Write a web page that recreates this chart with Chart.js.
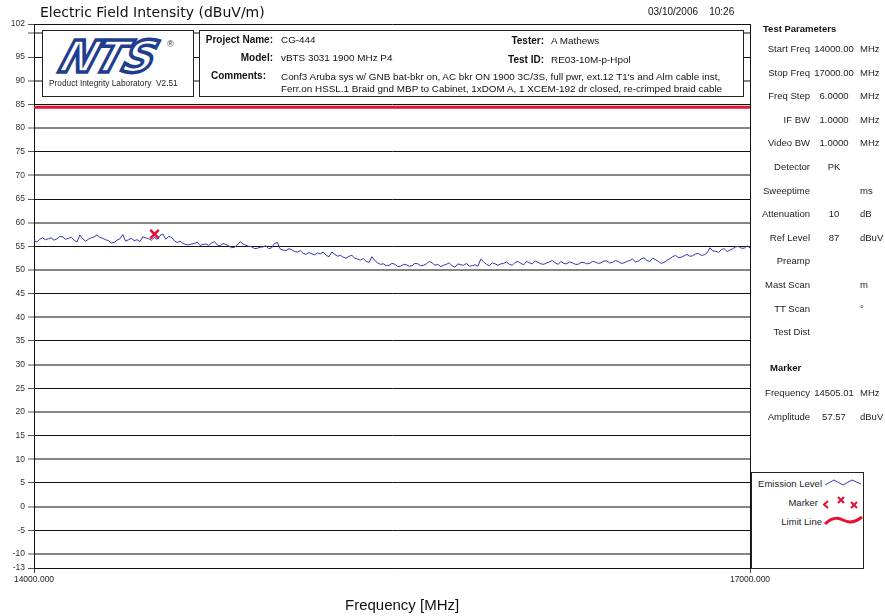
<!DOCTYPE html>
<html>
<head>
<meta charset="utf-8">
<script src="https://cdn.jsdelivr.net/npm/chart.js@4/dist/chart.umd.min.js"></script>
<style>
  html, body { margin: 0; padding: 0; background: #fff; }
  #wrap { position: relative; width: 885px; height: 616px; overflow: hidden; font-family: "Liberation Sans", Arial, sans-serif; color: #111; }
  #c { position: absolute; left: 0; top: 0; }
  .abs { position: absolute; white-space: nowrap; line-height: 12px; }
  .box { position: absolute; background: #fff; border: 1px solid #222; box-sizing: border-box; }
  .lbl { font-weight: bold; font-size: 10px; text-align: right; }
  .val { font-size: 9.9px; }
  .pl { font-size: 9.5px; text-align: right; color: #222; }
  .pv { font-size: 9.5px; text-align: center; color: #222; }
  .pu { font-size: 9.5px; color: #222; }
</style>
</head>
<body>
<div id="wrap">
  <canvas id="c" width="885" height="616"></canvas>

  <div class="abs" style="left:40px;top:4px;font-family:'DejaVu Sans',sans-serif;font-size:14px;line-height:17px;">Electric Field Intensity (dBuV/m)</div>
  <div class="abs" style="left:648px;top:6px;font-size:10px;">03/10/2006&nbsp;&nbsp;&nbsp;&nbsp;10:26</div>

  <!-- lab logo box -->
  <div class="box" style="left:42px;top:30px;width:152px;height:67px;">
    <div class="abs" style="left:19px;top:4px;font-family:'DejaVu Sans',sans-serif;font-weight:bold;font-style:italic;font-size:44px;line-height:44px;letter-spacing:-2px;color:#fff;-webkit-text-stroke:3.5px #1f3e8e;transform:skewX(-18deg);">NTS</div>
    <div class="abs" style="left:124px;top:7px;font-size:9px;color:#333;">®</div>
    <div class="abs" style="left:6px;top:46px;font-size:8.3px;color:#222;">Product Integrity Laboratory&nbsp;&nbsp;V2.51</div>
  </div>

  <!-- project information box -->
  <div class="box" style="left:199px;top:30px;width:545px;height:67px;"></div>
  <div id="info"></div>

  <!-- test parameter panel -->
  <div id="panel"></div>

  <!-- legend -->
  <div class="box" style="left:751px;top:472px;width:113px;height:97px;">
    <div class="abs pl" style="left:0;width:70px;top:5px;">Emission Level</div>
    <svg style="position:absolute;left:73px;top:5px" width="38" height="10"><polyline points="0,7 9,2 18,7 27,2 36,6" fill="none" stroke="#3a3ab8" stroke-width="1"/></svg>
    <div class="abs pl" style="left:0;width:66px;top:24px;">Marker</div>
    <svg style="position:absolute;left:70px;top:22px" width="40" height="16">
      <path d="M6,6 L2,9.5 L6,13" fill="none" stroke="#e01030" stroke-width="2"/>
      <path d="M16,2 L22,8 M22,2 L16,8" fill="none" stroke="#e01030" stroke-width="2"/>
      <path d="M29,7 L35,13 M35,7 L29,13" fill="none" stroke="#e01030" stroke-width="2"/>
    </svg>
    <div class="abs pl" style="left:0;width:70px;top:43px;">Limit Line</div>
    <svg style="position:absolute;left:72px;top:40px" width="40" height="14"><path d="M1,11 Q10,2 19,7 T38,4" fill="none" stroke="#e8102e" stroke-width="3"/></svg>
  </div>

  <div class="abs" style="left:345px;top:596px;font-size:15px;line-height:17px;">Frequency [MHz]</div>
</div>

<script>
// Sweep range and trace sampling (MHz)
const START_FREQ = 14000;
const STOP_FREQ = 17000;
const TRACE_STEP = 12;

// Peak emission level, dBuV/m, one value per TRACE_STEP from START_FREQ
const emission = [
  56.2, 55.9, 56.5, 56.8, 56.4, 56.6, 56.8, 56.3, 56.6, 57.1,
  57.0, 56.5, 56.7, 56.9, 56.3, 55.9, 57.4, 56.6, 56.1, 56.5,
  56.8, 57.0, 57.4, 56.9, 56.7, 56.4, 56.2, 55.7, 55.8, 56.3,
  56.6, 57.5, 56.1, 56.4, 56.7, 56.2, 56.4, 56.0, 57.0, 56.8,
  56.6, 56.3, 56.9, 56.5, 57.3, 57.6, 56.5, 57.1, 56.9, 56.2,
  55.8, 56.1, 55.6, 55.4, 55.3, 55.5, 55.6, 55.9, 55.2, 55.4,
  55.5, 55.2, 55.7, 56.0, 55.3, 55.1, 55.6, 55.4, 55.1, 54.7,
  54.8, 55.3, 56.0, 55.5, 55.2, 55.0, 54.9, 54.5, 54.6, 54.8,
  54.9, 55.1, 54.5, 54.7, 55.6, 55.8, 54.4, 54.2, 54.1, 54.5,
  54.3, 53.9, 53.8, 54.1, 53.5, 53.3, 53.7, 53.4, 53.2, 53.6,
  53.4, 53.8, 53.1, 52.8, 53.8, 53.3, 52.9, 53.1, 52.7, 52.5,
  52.9, 53.1, 52.5, 52.3, 52.1, 52.4, 51.8, 51.6, 52.8, 52.0,
  51.5, 51.2, 51.3, 50.9, 51.0, 51.4, 51.2, 50.7, 50.8, 51.2,
  51.1, 50.8, 50.9, 51.4, 51.3, 50.9, 51.0, 51.3, 51.8, 51.5,
  51.0, 51.2, 50.7, 51.0, 51.2, 51.5, 50.9, 50.6, 51.3, 51.1,
  51.0, 51.4, 50.8, 50.9, 51.1, 50.8, 52.3, 51.7, 51.2, 50.9,
  51.5, 51.3, 51.0, 51.3, 51.4, 51.7, 51.2, 51.0, 51.6, 51.8,
  51.4, 51.1, 51.8, 51.5, 51.3, 51.9, 51.6, 51.3, 51.2, 51.5,
  51.7, 52.0, 51.5, 51.2, 51.8, 51.4, 51.3, 51.7, 51.5, 51.2,
  51.2, 51.6, 51.6, 51.3, 51.4, 51.8, 51.7, 51.4, 51.5, 51.9,
  51.9, 51.5, 51.6, 52.0, 51.8, 51.4, 51.5, 51.8, 52.0, 52.3,
  51.7, 51.9, 52.3, 52.6, 52.0, 51.8, 52.5, 52.2, 51.8, 51.4,
  51.6, 52.0, 52.4, 52.8, 53.1, 52.6, 52.7, 53.0, 53.3, 52.9,
  53.0, 53.4, 53.5, 53.1, 53.2, 53.6, 54.7, 54.0, 54.0, 53.7,
  54.3, 54.5, 53.9, 54.2, 54.5, 54.9, 55.0, 54.6, 54.6, 55.1,
  54.7
];
const traceFreqs = emission.map((_, i) => START_FREQ + i * TRACE_STEP);

// Limit line
const limitFreqs = [14000, 17000];
const limitLevel = [84.4, 84.4];

// Peak marker
const markerFreq = [14505.01];
const markerAmp = [57.57];

// Axis ticks
const yTicks = [-13, -10, -5, 0, 5, 10, 15, 20, 25, 30, 35, 40, 45, 50, 55, 60, 65, 70, 75, 80, 85, 90, 95, 100, 102];
const xTicks = [14000, 17000];

// Header fields
const infoLeft = [["Project Name:", "CG-444"], ["Model:", "vBTS 3031 1900 MHz P4"]];
const infoRight = [["Tester:", "A Mathews"], ["Test ID:", "RE03-10M-p-Hpol"]];
const commentLines = [
  "Conf3 Aruba sys w/ GNB bat-bkr on, AC bkr ON 1900 3C/3S, full pwr,  ext.12 T1's and Alm cable inst,",
  "Ferr.on HSSL.1 Braid gnd MBP to Cabinet,  1xDOM A, 1 XCEM-192 dr closed, re-crimped braid cable"
];

// Test parameters panel
const paramLabels = ["Start Freq", "Stop Freq", "Freq Step", "IF BW", "Video BW", "Detector", "Sweeptime", "Attenuation", "Ref Level", "Preamp", "Mast Scan", "TT Scan", "Test Dist"];
const paramValues = ["14000.00", "17000.00", "6.0000", "1.0000", "1.0000", "PK", "", "10", "87", "", "", "", ""];
const paramUnits = ["MHz", "MHz", "MHz", "MHz", "MHz", "", "ms", "dB", "dBuV", "", "m", "°", ""];
const markerLabels = ["Frequency", "Amplitude"];
const markerValues = ["14505.01", "57.57"];
const markerUnits = ["MHz", "dBuV"];

function addText(parent, cls, text, style) {
  const d = document.createElement('div');
  d.className = 'abs ' + cls;
  d.textContent = text;
  Object.assign(d.style, style);
  parent.appendChild(d);
  return d;
}

// header fields
const info = document.getElementById('info');
infoLeft.forEach(([k, v], i) => {
  const top = (34 + i * 18) + 'px';
  addText(info, 'lbl', k, { left: '200px', width: '73px', top });
  addText(info, 'val', v, { left: '281px', top });
});
infoRight.forEach(([k, v], i) => {
  const top = (35 + i * 19) + 'px';
  addText(info, 'lbl', k, { left: '470px', width: '74px', top });
  addText(info, 'val', v, { left: '551px', top });
});
addText(info, 'lbl', "Comments:", { left: '200px', width: '66px', top: '70px' });
commentLines.forEach((t, i) => addText(info, 'val', t, { left: '281px', top: (71 + i * 12) + 'px' }));

// parameter panel
const panel = document.getElementById('panel');
addText(panel, 'lbl', "Test Parameters", { left: '763px', top: '23px', textAlign: 'left', fontSize: '9.5px' });
paramLabels.forEach((l, i) => {
  const top = (43 + i * 23.6) + 'px';
  addText(panel, 'pl', l, { left: '740px', width: '70px', top });
  addText(panel, 'pv', paramValues[i], { left: '810px', width: '48px', top });
  addText(panel, 'pu', paramUnits[i], { left: '860px', top });
});
addText(panel, 'lbl', "Marker", { left: '770px', top: '362px', textAlign: 'left', fontSize: '9.5px' });
markerLabels.forEach((l, i) => {
  const top = (387 + i * 23.5) + 'px';
  addText(panel, 'pl', l, { left: '740px', width: '70px', top });
  addText(panel, 'pv', markerValues[i], { left: '810px', width: '48px', top });
  addText(panel, 'pu', markerUnits[i], { left: '860px', top });
});

// chart
const toPts = (xs, ys) => xs.map((x, i) => ({ x, y: ys[i] }));

new Chart(document.getElementById('c'), {
  type: 'scatter',
  data: {
    datasets: [
      {
        label: 'Limit Line',
        data: toPts(limitFreqs, limitLevel),
        showLine: true, borderColor: '#e8102e', borderWidth: 3, pointRadius: 0
      },
      {
        label: 'Emission Level',
        data: toPts(traceFreqs, emission),
        showLine: true, borderColor: '#3434b4', borderWidth: 1, pointRadius: 0, tension: 0
      },
      {
        label: 'Marker',
        data: toPts(markerFreq, markerAmp),
        showLine: false, pointStyle: 'crossRot', pointRadius: 6, pointBorderWidth: 2.5,
        borderColor: '#e01030', backgroundColor: '#e01030'
      }
    ]
  },
  options: {
    responsive: false,
    animation: false,
    devicePixelRatio: 1,
    layout: { padding: { left: 0, top: 24, right: 135, bottom: 0 } },
    plugins: { legend: { display: false }, tooltip: { enabled: false } },
    scales: {
      x: {
        type: 'linear', min: START_FREQ, max: STOP_FREQ,
        afterBuildTicks: s => { s.ticks = xTicks.map(v => ({ value: v })); },
        afterFit: s => { s.height = 48; },
        ticks: {
          autoSkip: false, maxRotation: 0, padding: 2,
          font: { family: 'Liberation Sans', size: 8.5 }, color: '#222',
          callback: v => Number(v).toFixed(3)
        },
        grid: { color: '#111', lineWidth: 1, tickLength: 5, tickColor: '#444' },
        border: { color: '#111', width: 1 }
      },
      y: {
        min: -13, max: 102,
        afterBuildTicks: s => { s.ticks = yTicks.map(v => ({ value: v })); },
        afterFit: s => { s.width = 34; },
        ticks: {
          autoSkip: false, padding: 3,
          font: { family: 'Liberation Sans', size: 8.5 }, color: '#333',
          callback: v => (v === 100 ? '' : String(v))
        },
        grid: {
          tickLength: 6, tickColor: '#555', tickWidth: 1,
          color: c => (c.tick && c.tick.value % 10 === 0 ? '#858585' : '#111'),
          lineWidth: c => (c.tick && c.tick.value % 10 === 0 ? 2 : 1)
        },
        border: { color: '#111', width: 1 }
      }
    }
  }
});
</script>
</body>
</html>
